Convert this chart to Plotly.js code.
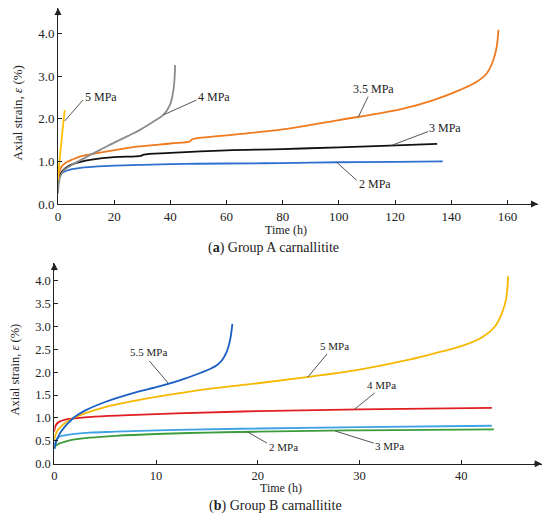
<!DOCTYPE html>
<html>
<head>
<meta charset="utf-8">
<script src="https://cdn.plot.ly/plotly-3.0.1.min.js"></script>
<style>html,body{margin:0;padding:0;background:#fff;}#chart{width:550px;height:517px;}</style>
</head>
<body>
<div id="chart"></div>
<script>
// ---------- Group A carnallitite ----------
const tA2  = [0, 0.2, 0.5, 1, 2, 3, 5, 8, 12, 20, 30, 45, 60, 80, 100, 120, 137];
const sA2  = [0.38, 0.55, 0.64, 0.70, 0.75, 0.78, 0.82, 0.85, 0.87, 0.90, 0.92, 0.94, 0.95, 0.96, 0.98, 0.99, 1.00];
const tA3  = [0, 0.2, 0.5, 1, 2, 3, 5, 8, 12, 20, 29.5, 30.5, 40, 60, 80, 100, 118, 135];
const sA3  = [0.45, 0.58, 0.66, 0.72, 0.80, 0.86, 0.93, 0.99, 1.04, 1.10, 1.13, 1.16, 1.20, 1.26, 1.29, 1.33, 1.37, 1.41];
const tA35 = [0, 0.3, 0.7, 1.3, 2, 3.3, 5, 7.8, 12, 17, 29, 40, 47, 47.8, 60, 80, 100, 121.8, 133.7, 143.2, 149.1, 152.7, 155.0, 156.2, 156.8];
const sA35 = [0.58, 0.70, 0.80, 0.88, 0.93, 0.99, 1.04, 1.11, 1.17, 1.23, 1.35, 1.42, 1.47, 1.52, 1.61, 1.75, 1.97, 2.22, 2.44, 2.68, 2.87, 3.07, 3.38, 3.69, 4.09];
const tA4  = [0, 0.2, 0.5, 1, 2, 3, 5, 8, 10, 15, 20, 25, 29.2, 33.9, 37.5, 39.9, 41.1, 41.5, 41.7];
const sA4  = [0.25, 0.45, 0.58, 0.68, 0.78, 0.84, 0.92, 1.03, 1.10, 1.27, 1.44, 1.60, 1.74, 1.93, 2.09, 2.33, 2.68, 2.95, 3.26];
const tA5  = [0, 0.2, 0.5, 1, 1.5, 2, 2.4];
const sA5  = [0.55, 0.75, 0.98, 1.32, 1.65, 1.97, 2.20];

// ---------- Group B carnallitite ----------
const tB55 = [0, 0.1, 0.3, 0.6, 1, 1.5, 2, 3, 5, 8, 10.3, 12.4, 14.4, 15.3, 16.0, 16.5, 16.95, 17.28, 17.5];
const sB55 = [0.32, 0.42, 0.55, 0.68, 0.80, 0.92, 1.02, 1.16, 1.35, 1.56, 1.69, 1.83, 1.99, 2.07, 2.16, 2.27, 2.45, 2.71, 3.06];
const tB5  = [0, 0.1, 0.3, 0.6, 1, 1.5, 2, 3, 5, 8, 10, 15, 20, 25, 30, 35, 38, 40, 42, 43.3, 44, 44.4, 44.6];
const sB5  = [0.50, 0.62, 0.72, 0.80, 0.88, 0.95, 1.01, 1.10, 1.24, 1.38, 1.46, 1.63, 1.76, 1.90, 2.06, 2.28, 2.45, 2.57, 2.76, 3.00, 3.30, 3.60, 4.10];
const tB4  = [0, 0.05, 0.2, 0.5, 1, 2, 4, 8, 12, 20, 30, 43];
const sB4  = [0.70, 0.78, 0.86, 0.92, 0.96, 0.99, 1.03, 1.07, 1.10, 1.15, 1.19, 1.22];
const tB2  = [0, 0.1, 0.3, 0.6, 1, 2, 3.5, 6, 8.4, 12, 20, 30, 43];
const sB2  = [0.38, 0.48, 0.55, 0.60, 0.62, 0.65, 0.68, 0.70, 0.72, 0.74, 0.77, 0.80, 0.83];
const tB3  = [0, 0.1, 0.3, 0.6, 1, 2, 3.5, 6, 10, 15, 20, 30, 43.2];
const sB3  = [0.33, 0.38, 0.42, 0.45, 0.48, 0.53, 0.57, 0.61, 0.65, 0.68, 0.70, 0.73, 0.75];

const W = 550, H = 517;
const FONT = "Liberation Serif, Times New Roman, serif";

function line(x, y, color, name, xa, ya) {
  return {x: x, y: y, type: 'scatter', mode: 'lines', name: name,
          xaxis: xa, yaxis: ya, line: {color: color, width: 1.8, shape: 'spline', smoothing: 1},
          hoverinfo: 'skip'};
}

const data = [
  line(tA2, sA2, '#2e6fd0', '2 MPa', 'x', 'y'),
  line(tA3, sA3, '#111111', '3 MPa', 'x', 'y'),
  line(tA35, sA35, '#f07a1e', '3.5 MPa', 'x', 'y'),
  line(tA4, sA4, '#8c8c8c', '4 MPa', 'x', 'y'),
  line(tA5, sA5, '#ffbf00', '5 MPa', 'x', 'y'),
  line(tB3, sB3, '#3c9c3c', '3 MPa', 'x2', 'y2'),
  line(tB2, sB2, '#3fa2e4', '2 MPa', 'x2', 'y2'),
  line(tB4, sB4, '#e01e22', '4 MPa', 'x2', 'y2'),
  line(tB5, sB5, '#f6b800', '5 MPa', 'x2', 'y2'),
  line(tB55, sB55, '#1a5ec4', '5.5 MPa', 'x2', 'y2')
];

function axisX(domPx, range, dtick, size) {
  return {domain: [domPx[0] / W, domPx[1] / W], range: range, dtick: dtick, tick0: 0,
          showline: true, linecolor: '#222', linewidth: 1, ticks: 'inside', ticklen: 4,
          tickcolor: '#222', showgrid: false, zeroline: false, fixedrange: true,
          tickfont: {family: FONT, size: size, color: '#222'}};
}
function axisY(domPx, range, dtick, size) {
  return {domain: [1 - domPx[1] / H, 1 - domPx[0] / H], range: range, dtick: dtick, tick0: 0,
          tickformat: '.1f', showline: true, linecolor: '#222', linewidth: 1, ticks: 'inside',
          ticklen: 4, tickcolor: '#222', showgrid: false, zeroline: false, fixedrange: true,
          tickfont: {family: FONT, size: size, color: '#222'}};
}

const layout = {
  width: W, height: H, autosize: false,
  margin: {l: 0, r: 0, t: 0, b: 0},
  paper_bgcolor: '#fff', plot_bgcolor: '#fff',
  showlegend: false,
  xaxis: Object.assign(axisX([58, 538], [0, 170.9], 20, 13), {anchor: 'y'}),
  yaxis: Object.assign(axisY([8, 204], [0, 4.6], 1, 13), {anchor: 'x'}),
  xaxis2: Object.assign(axisX([54.3, 541.7], [0, 47.9], 10, 12.5), {anchor: 'y2'}),
  yaxis2: Object.assign(axisY([263, 463.7], [0, 4.39], 0.5, 12.5), {anchor: 'x2'}),
  shapes: [],
  annotations: []
};

function leader(xr, yr, x0, y0, x1, y1) {
  layout.shapes.push({type: 'line', xref: xr, yref: yr, x0: x0, y0: y0, x1: x1, y1: y1,
                      line: {color: '#555', width: 1}});
}
function label(xr, yr, x, y, text, size) {
  layout.annotations.push({xref: xr, yref: yr, x: x, y: y, text: text, showarrow: false,
                           xanchor: 'center', yanchor: 'middle',
                           font: {family: FONT, size: size, color: '#222'}});
}
function ptext(px, py, text, size, angle, fam) {
  layout.annotations.push({xref: 'paper', yref: 'paper', x: px / W, y: 1 - py / H, text: text,
                           showarrow: false, textangle: angle || 0,
                           xanchor: 'center', yanchor: 'middle',
                           font: {family: fam || FONT, size: size, color: '#222'}});
}
function arrowHead(px, py, dx, dy) {
  layout.annotations.push({xref: 'paper', yref: 'paper', x: px / W, y: 1 - py / H, ax: dx, ay: dy,
                           text: '', showarrow: true, arrowhead: 2, arrowsize: 1.4, arrowwidth: 1,
                           arrowcolor: '#222', standoff: 0});
}

// Group A labels
leader('x', 'y', 2.4, 1.95, 8.9, 2.44);   label('x', 'y', 15.3, 2.51, '5 MPa', 12);
leader('x', 'y', 37.5, 2.09, 49.3, 2.44); label('x', 'y', 55.6, 2.51, '4 MPa', 12);
leader('x', 'y', 106.9, 2.04, 110.4, 2.52); label('x', 'y', 112.2, 2.69, '3.5 MPa', 12);
leader('x', 'y', 118.7, 1.375, 131.8, 1.70); label('x', 'y', 137.8, 1.79, '3 MPa', 12);
leader('x', 'y', 99.2, 0.98, 106.3, 0.56); label('x', 'y', 112.7, 0.46, '2 MPa', 12);

// Group B labels
leader('x2', 'y2', 9.33, 2.25, 11.2, 1.76); label('x2', 'y2', 9.21, 2.44, '5.5 MPa', 11);
leader('x2', 'y2', 24.9, 1.89, 26.8, 2.40); label('x2', 'y2', 27.5, 2.57, '5 MPa', 11);
leader('x2', 'y2', 29.5, 1.19, 31.5, 1.55); label('x2', 'y2', 32.2, 1.72, '4 MPa', 11);
leader('x2', 'y2', 18.95, 0.70, 20.9, 0.45); label('x2', 'y2', 22.5, 0.36, '2 MPa', 11);
leader('x2', 'y2', 27.6, 0.715, 31.4, 0.45); label('x2', 'y2', 32.9, 0.39, '3 MPa', 11);

// axis titles and captions
ptext(17, 113.5, 'Axial strain, <i>ε</i> (%)', 13, -90);
ptext(286, 230, 'Time (h)', 12);
ptext(273, 248, '(<b>a</b>) Group A carnallitite', 14);
ptext(14, 369.5, 'Axial strain, <i>ε</i> (%)', 12.5, -90);
ptext(281, 488, 'Time (h)', 12);
ptext(275, 506, '(<b>b</b>) Group B carnallitite', 14);

// axis arrowheads
arrowHead(538, 204, -9, 0);
arrowHead(58, 8, 0, 9);
arrowHead(541.7, 463.7, -9, 0);
arrowHead(54.3, 263, 0, 9);

Plotly.newPlot('chart', data, layout, {staticPlot: true, displayModeBar: false});
</script>
</body>
</html>
